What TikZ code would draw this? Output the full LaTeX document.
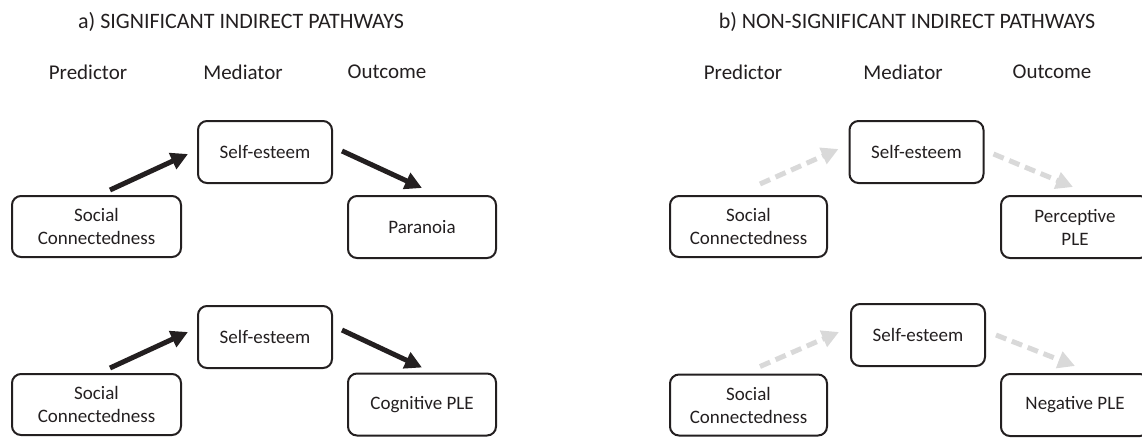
\documentclass[tikz,border=0pt]{standalone}
\usepackage{fontspec}
\setmainfont{Carlito}
\usepackage{xcolor}
\usepackage{tikz}
\usetikzlibrary{positioning,calc,arrows.meta}

\definecolor{ink}{HTML}{231F20}
\definecolor{faint}{HTML}{D9D9D9}

\begin{document}
\begin{tikzpicture}[x=1pt, y=-1pt,
    box/.style={draw=ink, line width=2pt, rounded corners=9pt, text=ink, align=center,
        font=\fontsize{19}{23}\selectfont, inner sep=0pt},
    med/.style={box, minimum width=134pt, minimum height=62pt},
    pred/.style={box, minimum width=169pt, minimum height=61pt},
    outc/.style={box, minimum width=148pt, minimum height=62pt},
    head/.style={text=ink, font=\fontsize{21}{25}\selectfont},
    title/.style={text=ink, font=\fontsize{22}{26}\selectfont},
    sig/.style={draw=ink, line width=5pt, -{Triangle[length=17pt,width=17pt]}},
    nonsig/.style={draw=faint, line width=5pt, dash pattern=on 11pt off 6pt,
        -{Triangle[length=17pt,width=17pt]}}]
    \useasboundingbox (0,0) rectangle (1142,437);
    \clip (0,0) rectangle (1142,437);

    % a) significant
    \node[title] (titleA) at (241,22) {a) SIGNIFICANT INDIRECT PATHWAYS};
    \node[head] (predA) at (88,72) {Predictor};
    \node[head] (medA) at (243,72) {Mediator};
    \node[head] (outA) at (387,72) {Outcome};

    \node[pred] (socA1) at (96.5,226.5) {Social\\Connectedness};
    \node[med] (seA1) at (265,152) {Self-esteem};
    \node[outc] (parA) at (422,227) {Paranoia};
    \draw[sig] ([xshift=13.5pt,yshift=5pt]socA1.north) -- ([xshift=-9pt,yshift=-2pt]seA1.west);
    \draw[sig] ([xshift=9pt,yshift=1pt]seA1.east) -- ([yshift=7pt]parA.north);

    \node[pred] (socA2) at (96.5,404.5) {Social\\Connectedness};
    \node[med] (seA2) at (265,337) {Self-esteem};
    \node[outc] (cogA) at (422,404.5) {Cognitive PLE};
    \draw[sig] ([xshift=13.5pt,yshift=5pt]socA2.north) -- ([xshift=-9pt,yshift=5pt]seA2.west);
    \draw[sig] ([xshift=9pt,yshift=7pt]seA2.east) -- ([yshift=5pt]cogA.north);

    % b) non-significant
    \node[title] (titleB) at (907,22) {b) NON-SIGNIFICANT INDIRECT PATHWAYS};
    \node[head] (predB) at (743,72) {Predictor};
    \node[head] (medB) at (903,72) {Mediator};
    \node[head] (outB) at (1052,72) {Outcome};

    \node[pred, minimum width=157pt] (socB1) at (748.5,226.5) {Social\\Connectedness};
    \node[med] (seB1) at (916.5,152) {Self-esteem};
    \node[outc] (perB) at (1075,227) {Perceptive\\PLE};
    \draw[nonsig] ([xshift=11.5pt,yshift=11pt]socB1.north) -- ([xshift=-10pt,yshift=3pt]seB1.west);
    \draw[nonsig] ([xshift=9pt,yshift=-2pt]seB1.east) -- ([xshift=-2pt,yshift=8pt]perB.north);

    \node[pred, minimum width=157pt] (socB2) at (748.5,405) {Social\\Connectedness};
    \node[med] (seB2) at (918,335) {Self-esteem};
    \node[outc] (negB) at (1075,405) {Negative PLE};
    \draw[nonsig] ([xshift=11.5pt,yshift=7pt]socB2.north) -- ([xshift=-11pt,yshift=3pt]seB2.west);
    \draw[nonsig] ([xshift=10pt,yshift=0pt]seB2.east) -- ([yshift=7pt]negB.north);
\end{tikzpicture}
\end{document}
